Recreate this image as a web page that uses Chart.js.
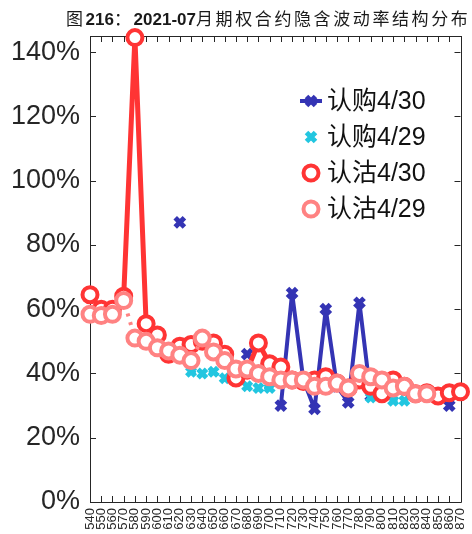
<!DOCTYPE html>
<html>
<head>
<meta charset="utf-8">
<script src="https://cdn.jsdelivr.net/npm/chart.js@4.4.0/dist/chart.umd.min.js"></script>
<style>
  html, body { margin: 0; padding: 0; background: #fff; }
  #wrap { position: relative; width: 472px; height: 534px; }
  #title { position: absolute; left: 66px; top: 8px; font-size: 17px; line-height: 20px; color: #1a1a1a; white-space: nowrap;
           font-family: "Liberation Sans", "Noto Sans CJK SC", sans-serif; }
  #title .cjk { letter-spacing: 2.6px; font-family: "Noto Sans CJK SC", sans-serif; }
</style>
</head>
<body>
<div id="wrap">
  <canvas id="chart" width="472" height="534"></canvas>
  <div id="title"><span class="cjk">图</span><b>216</b><span class="cjk">：</span><b>2021-07</b><span class="cjk">月期权合约隐含波动率结构分布</span></div>
</div>
<script>
// 行权价
const strikes = ['540', '550', '560', '570', '580', '590', '600', '610', '620', '630', '640', '650',
    '660', '670', '680', '690', '700', '710', '720', '730', '740', '750', '760', '770', '780', '790',
    '800', '810', '820', '830', '840', '850', '860', '870']

// 隐含波动率
const call0430 = [null, null, null, null, null, null, null, null, 0.87, null, null, null, null, null,
    0.46, null, null, 0.30, 0.65, 0.38, 0.29, 0.60, 0.36, 0.31, 0.62, 0.33,
    null, null, null, null, null, null, 0.30, null]
const call0429 = [null, null, null, null, null, null, 0.53, 0.47, 0.455, 0.405, 0.40, 0.405, 0.385, 0.40,
    0.36, 0.355, 0.355, 0.375, 0.375, 0.375, 0.355, 0.355, 0.365, 0.35, 0.385, 0.325,
    0.37, 0.315, 0.315, 0.335, 0.335, null, null, null]
const put0430 = [0.645, 0.60, 0.60, 0.64, 1.445, 0.555, 0.52, 0.46, 0.485, 0.49, 0.50, 0.495, 0.46, 0.386,
    0.41, 0.495, 0.43, 0.42, 0.38, 0.375, 0.38, 0.39, 0.37, 0.355, 0.38, 0.36,
    0.337, 0.38, 0.36, 0.337, 0.34, 0.33, 0.34, 0.343]
const put0429 = [0.584, 0.58, 0.584, 0.627, 0.51, 0.50, 0.48, 0.47, 0.457, 0.44, 0.51, 0.467, 0.44, 0.414,
    0.414, 0.40, 0.39, 0.38, 0.38, 0.38, 0.36, 0.36, 0.37, 0.355, 0.40, 0.39,
    0.38, 0.355, 0.36, 0.337, 0.337, null, null, null]

const yTicks = [0, 0.2, 0.4, 0.6, 0.8, 1.0, 1.2, 1.4]

const BLUE = '#3434b4'
const CYAN = '#22c6e0'
const RED = '#ff3434'
const PINK = '#ff8282'
const AXIS = '#262626'

// 坐标轴内侧刻度 + 外框
const innerTicks = {
    id: 'innerTicks',
    beforeDatasetsDraw(chart) {
        const {ctx, chartArea: a, scales: {x, y}} = chart
        ctx.save()
        ctx.strokeStyle = AXIS
        ctx.lineWidth = 1
        ctx.beginPath()
        x.ticks.forEach((t, i) => {
            const px = Math.round(x.getPixelForTick(i)) + 0.5
            ctx.moveTo(px, a.bottom); ctx.lineTo(px, a.bottom - 6)
            ctx.moveTo(px, a.top); ctx.lineTo(px, a.top + 6)
        })
        y.ticks.forEach((t, i) => {
            const py = Math.round(y.getPixelForTick(i)) + 0.5
            ctx.moveTo(a.left, py); ctx.lineTo(a.left + 6, py)
            ctx.moveTo(a.right, py); ctx.lineTo(a.right - 6, py)
        })
        ctx.rect(Math.round(a.left) + 0.5, Math.round(a.top) + 0.5, Math.round(a.width), Math.round(a.height))
        ctx.stroke()
        ctx.restore()
    }
}

// 图例画在绘图区右上
const innerLegend = {
    id: 'innerLegend',
    afterDraw(chart) {
        const ctx = chart.ctx
        const mx = 311, tx = 327, y0 = 101, step = 36
        ctx.save()
        chart.data.datasets.forEach((ds, i) => {
            const y = y0 + i * step
            ctx.strokeStyle = ds.borderColor
            if (ds.pointStyle === 'crossRot') {
                if (!ds.borderDash) {
                    ctx.lineWidth = 4
                    ctx.beginPath(); ctx.moveTo(mx - 11, y); ctx.lineTo(mx + 11, y); ctx.stroke()
                }
                const d = 4.5
                ctx.lineWidth = 5
                ctx.beginPath()
                ctx.moveTo(mx - d, y - d); ctx.lineTo(mx + d, y + d)
                ctx.moveTo(mx - d, y + d); ctx.lineTo(mx + d, y - d)
                ctx.stroke()
            } else {
                ctx.lineWidth = 4
                ctx.fillStyle = '#fff'
                ctx.beginPath(); ctx.arc(mx, y, 7.5, 0, Math.PI * 2); ctx.fill(); ctx.stroke()
            }
            ctx.fillStyle = '#111'
            ctx.font = '25px "Liberation Sans", "Noto Sans CJK SC", sans-serif'
            ctx.textBaseline = 'middle'
            ctx.fillText(ds.label, tx, y + 1)
        })
        ctx.restore()
    }
}

const ctx = document.getElementById('chart')
new Chart(ctx, {
    type: 'line',
    data: {
        labels: strikes,
        datasets: [
            {
                label: '认购4/30', data: call0430, order: 4,
                borderColor: BLUE, backgroundColor: BLUE, borderWidth: 4,
                borderJoinStyle: 'round', borderCapStyle: 'round',
                pointStyle: 'crossRot', pointRadius: 6.5, pointBorderWidth: 5, pointBorderColor: BLUE,
                spanGaps: false, clip: false
            },
            {
                label: '认购4/29', data: call0429, order: 3,
                borderColor: CYAN, backgroundColor: CYAN, borderWidth: 3, borderDash: [3, 5],
                pointStyle: 'crossRot', pointRadius: 6, pointBorderWidth: 5, pointBorderColor: CYAN,
                spanGaps: false, clip: false
            },
            {
                label: '认沽4/30', data: put0430, order: 2,
                borderColor: RED, backgroundColor: '#fff', borderWidth: 5,
                borderJoinStyle: 'round', borderCapStyle: 'round',
                pointStyle: 'circle', pointRadius: 7.5, pointBorderWidth: 4, pointBackgroundColor: '#fff', pointBorderColor: RED,
                clip: false
            },
            {
                label: '认沽4/29', data: put0429, order: 1,
                borderColor: PINK, backgroundColor: '#fff', borderWidth: 4, borderDash: [3, 6],
                pointStyle: 'circle', pointRadius: 7.5, pointBorderWidth: 4, pointBackgroundColor: '#fff', pointBorderColor: PINK,
                clip: false
            }
        ]
    },
    options: {
        responsive: false,
        animation: false,
        devicePixelRatio: 1,
        layout: {padding: {top: 36, right: 10, left: 0, bottom: 0}},
        plugins: {
            legend: {display: false},
            title: {display: false},
            tooltip: {enabled: false}
        },
        scales: {
            x: {
                offset: false,
                grid: {display: false, drawTicks: false},
                border: {display: false},
                ticks: {
                    autoSkip: false, maxRotation: 90, minRotation: 90, padding: 6,
                    color: AXIS, font: {family: '"Liberation Sans", sans-serif', size: 13}
                },
                afterFit: s => { s.height = 32; s.paddingLeft = 0; s.paddingRight = 0 }
            },
            y: {
                min: 0, max: 1.45,
                grid: {display: false, drawTicks: false},
                border: {display: false},
                afterBuildTicks: s => { s.ticks = yTicks.map(v => ({value: v})) },
                ticks: {
                    padding: 10, color: AXIS,
                    font: {family: '"Liberation Sans", sans-serif', size: 27},
                    callback: v => Math.round(v * 100) + '%'
                },
                afterFit: s => { s.width = 90 }
            }
        }
    },
    plugins: [innerTicks, innerLegend]
})
</script>
</body>
</html>
